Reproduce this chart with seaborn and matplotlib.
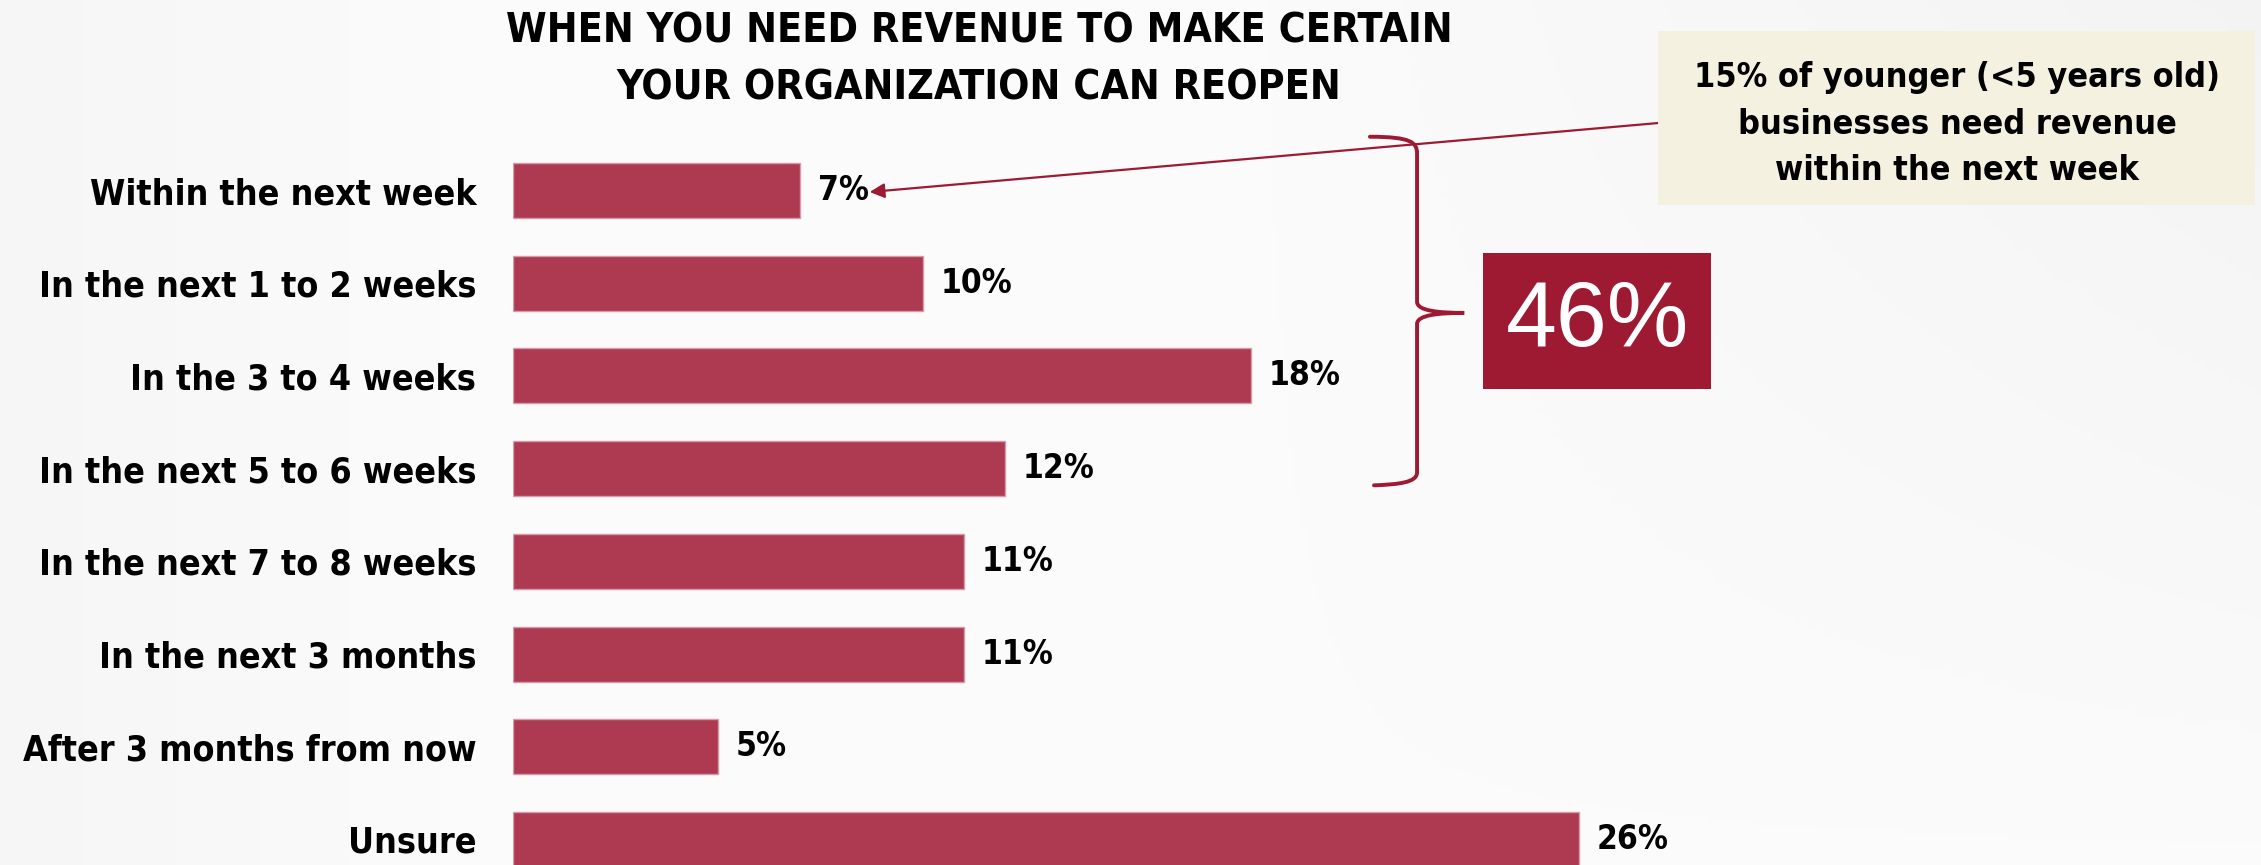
import numpy as np
import pandas as pd
import matplotlib
matplotlib.use("Agg")
import matplotlib.pyplot as plt
from matplotlib import font_manager as fm
from matplotlib.patches import Rectangle, PathPatch
from matplotlib.path import Path
import seaborn as sns

# Survey answers and shares (%)
categories = [
    "Within the next week",
    "In the next 1 to 2 weeks",
    "In the 3 to 4 weeks",
    "In the next 5 to 6 weeks",
    "In the next 7 to 8 weeks",
    "In the next 3 months",
    "After 3 months from now",
    "Unsure",
]
shares = [7, 10, 18, 12, 11, 11, 5, 26]
value_labels = [f"{v}%" for v in shares]

title_text = "WHEN YOU NEED REVENUE TO MAKE CERTAIN\nYOUR ORGANIZATION CAN REOPEN"
callout_text = "15% of younger (<5 years old)\nbusinesses need revenue\nwithin the next week"
total_text = "46%"

BAR = "#AD3A50"
DARK_RED = "#9E1A33"


def narrow_face(target_weight=700):
    """Pick a condensed face of the given weight if one is installed."""
    best = None
    for f in fm.fontManager.ttflist:
        name = f.name.lower()
        path = f.fname.lower()
        narrow = ("narrow" in name or "condensed" in name or "condensed" in path
                  or "narrow" in path or f.stretch in ("condensed", "semi-condensed"))
        if not narrow or "oblique" in path or "italic" in path or f.style != "normal":
            continue
        w = f.weight if isinstance(f.weight, int) else 700 if "bold" in str(f.weight) else 400
        score = abs(w - target_weight) + (0 if "liberation" in name else 50)
        if best is None or score < best[0]:
            best = (score, f.fname)
    return best[1] if best else None


sns.set_theme(style="white")
plt.rcParams["font.family"] = ["DejaVu Sans"]

nb_path = narrow_face(700)


def fp(size):
    if nb_path:
        return fm.FontProperties(fname=nb_path, size=size)
    return fm.FontProperties(family="DejaVu Sans", weight="bold", size=size * 0.8)


W, H = 2261, 865
fig = plt.figure(figsize=(W / 100, H / 100), dpi=100)

# soft background shading
bg = fig.add_axes([0, 0, 1, 1], zorder=-10)
xx = np.linspace(0, 1, 400)
yy = np.linspace(0, 1, 200)
X, Y = np.meshgrid(xx, yy)
shade = 0.985 - 0.03 * np.clip((X - 0.55) / 0.45, 0, 1) * (1 - Y) - 0.02 * np.clip((0.2 - X) / 0.2, 0, 1)
bg.imshow(np.dstack([shade] * 3), aspect="auto", extent=[0, 1, 1, 0])
bg.set_axis_off()

df = pd.DataFrame({"answer": categories, "share": shares})
ax = fig.add_axes([513 / W, 0, 1 - 513 / W, 1])
ax.patch.set_alpha(0)
sns.barplot(data=df, x="share", y="answer", orient="h", color=BAR, saturation=1,
            width=0.593, edgecolor="#D89AA8", linewidth=1.0, ax=ax)

ax.set_xlim(0, (W - 513) / 41)
ax.set_ylim(7 + 25.5 / 92.7, -190.5 / 92.7)
ax.set_xlabel("")
ax.set_ylabel("")
ax.set_xticks([])
for s in ax.spines.values():
    s.set_visible(False)
ax.tick_params(axis="y", length=0, pad=26.5)
for t in ax.get_yticklabels():
    t.set_fontproperties(fp(25.7))
    t.set_color("black")

ax.bar_label(ax.containers[0], labels=value_labels, padding=13,
             fontproperties=fp(24), color="black")

# title
fig.text(979 / W, 1 - 60 / H, title_text, ha="center", va="center",
         fontproperties=fp(29.5), linespacing=1.55, color="black")

# brace grouping the first four answers
bx, tipx = 22.05, 23.2
verts = [
    (20.9, -0.58), (21.9, -0.58), (bx, -0.52), (bx, -0.40),
    (bx, 1.20),
    (bx, 1.30), (22.6, 1.32), (tipx, 1.32),
    (22.6, 1.32), (bx, 1.34), (bx, 1.44),
    (bx, 3.04),
    (bx, 3.15), (21.6, 3.17), (21.0, 3.18),
]
codes = [Path.MOVETO, Path.CURVE4, Path.CURVE4, Path.CURVE4,
         Path.LINETO,
         Path.CURVE4, Path.CURVE4, Path.CURVE4,
         Path.CURVE4, Path.CURVE4, Path.CURVE4,
         Path.LINETO,
         Path.CURVE4, Path.CURVE4, Path.CURVE4]
ax.add_patch(PathPatch(Path(verts, codes), fill=False, edgecolor=DARK_RED,
                       linewidth=2.8, capstyle="round", clip_on=False))

# 46% box
fig.patches.append(Rectangle((1483 / W, 1 - 389 / H), 228 / W, 136 / H,
                             transform=fig.transFigure, facecolor=DARK_RED,
                             edgecolor="none", zorder=5))
fig.text(1597 / W, 1 - 322 / H, total_text, ha="center", va="center", fontsize=66,
         color="white", family=["Liberation Sans", "DejaVu Sans"], zorder=6)

# callout box
fig.patches.append(Rectangle((1658 / W, 1 - 205 / H), 597 / W, 174 / H,
                             transform=fig.transFigure, facecolor="#F5F1E1",
                             edgecolor="none", zorder=5))
fig.text(1957 / W, 1 - 124 / H, callout_text, ha="center", va="center",
         fontproperties=fp(24.5), linespacing=1.5, color="black", zorder=6)

# arrow from callout to first bar's label
ax.annotate("", xy=(8.7, 0.016), xytext=(27.93, -0.728),
            arrowprops=dict(arrowstyle="-|>", color=DARK_RED, lw=1.6,
                            mutation_scale=22, shrinkA=0, shrinkB=0),
            annotation_clip=False)

fig.savefig("out.png", dpi=100)
